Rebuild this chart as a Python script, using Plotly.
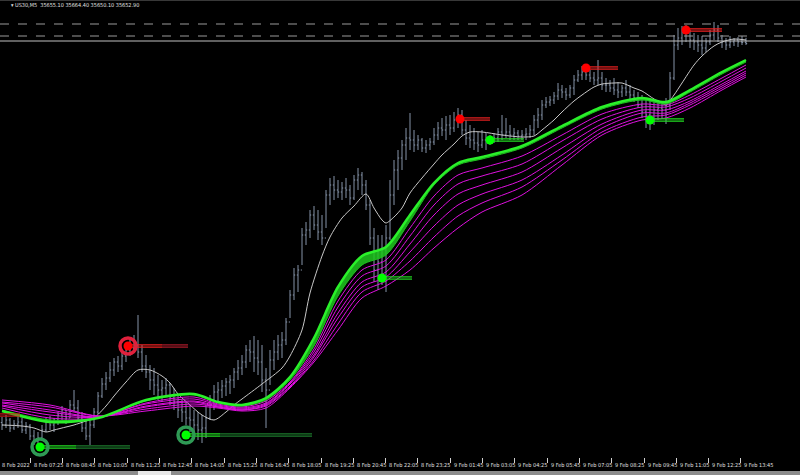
import plotly.graph_objects as go

# ── US30 M5 chart, bars drawn as 10-minute slots ─────────────────
BAR_HIGH = [
    34906, 34910, 34904, 34900, 34908, 34904, 34896, 34892, 34880, 34876,
    34890, 34904, 34908, 34904, 34916, 34928, 34920, 34940, 34960, 34940,
    34916, 34900, 34904, 34924, 34956, 34984, 34996, 35016, 35024, 35028,
    35036, 35052, 35060, 35070, 35110, 35050, 35030, 35010, 35004, 34990,
    34980, 34984, 34974, 34964, 34950, 34940, 34936, 34930, 34920, 34916,
    34910, 34930, 34950, 34970, 34976, 34980, 34984, 34990, 35004, 35020,
    35030, 35050, 35060, 35068, 35060, 35050, 35004, 35040, 35060, 35070,
    35076, 35104, 35160, 35204, 35210, 35284, 35296, 35320, 35328, 35320,
    35310, 35360, 35384, 35388, 35380, 35376, 35384, 35370, 35390, 35404,
    35396, 35380, 35340, 35284, 35270, 35270, 35290, 35380, 35420, 35440,
    35460, 35484, 35514, 35480, 35470, 35464, 35460, 35464, 35484, 35496,
    35504, 35508, 35510, 35516, 35524, 35520, 35500, 35490, 35484, 35476,
    35480, 35474, 35470, 35474, 35484, 35510, 35504, 35490, 35484, 35480,
    35480, 35484, 35490, 35510, 35524, 35540, 35546, 35548, 35556, 35574,
    35570, 35564, 35570, 35590, 35600, 35608, 35604, 35600, 35596, 35620,
    35596, 35584, 35580, 35584, 35576, 35570, 35580, 35570, 35560, 35556,
    35550, 35544, 35540, 35536, 35540, 35536, 35544, 35596, 35670, 35684,
    35688, 35690, 35680, 35674, 35670, 35668, 35664, 35680, 35696, 35690,
    35670, 35664, 35668, 35664, 35666, 35668, 35664.4,
]
BAR_LOW = [
    34880, 34884, 34876, 34880, 34884, 34874, 34872, 34860, 34850, 34848,
    34860, 34876, 34880, 34876, 34890, 34900, 34892, 34904, 34916, 34900,
    34876, 34860, 34850, 34884, 34912, 34944, 34960, 34976, 34988, 34996,
    35000, 35016, 35028, 35036, 35024, 34996, 34984, 34960, 34950, 34940,
    34936, 34950, 34930, 34920, 34904, 34896, 34890, 34876, 34868, 34860,
    34854, 34864, 34900, 34920, 34936, 34944, 34948, 34952, 34964, 34980,
    34990, 35004, 35016, 34996, 34990, 34956, 34884, 34970, 35000, 35020,
    35024, 35050, 35104, 35140, 35156, 35210, 35250, 35264, 35280, 35260,
    35250, 35284, 35330, 35340, 35344, 35340, 35344, 35330, 35340, 35360,
    35350, 35320, 35250, 35176, 35160, 35170, 35156, 35260, 35330, 35360,
    35400, 35420, 35440, 35436, 35440, 35436, 35434, 35440, 35450, 35460,
    35468, 35460, 35470, 35476, 35484, 35470, 35450, 35444, 35440, 35436,
    35444, 35440, 35450, 35454, 35456, 35460, 35464, 35460, 35460, 35460,
    35460, 35460, 35464, 35470, 35484, 35500, 35524, 35528, 35532, 35540,
    35544, 35540, 35544, 35550, 35576, 35580, 35580, 35576, 35570, 35570,
    35560, 35556, 35556, 35550, 35544, 35546, 35548, 35540, 35536, 35524,
    35504, 35484, 35480, 35490, 35500, 35504, 35492, 35520, 35580, 35640,
    35650, 35656, 35644, 35640, 35636, 35630, 35636, 35650, 35660, 35656,
    35644, 35640, 35644, 35648, 35646, 35650, 35650.1,
]
BAR_CLOSE = [
    34890, 34900, 34884, 34892, 34896, 34880, 34888, 34868, 34858, 34864,
    34880, 34896, 34890, 34900, 34910, 34920, 34904, 34930, 34924, 34904,
    34884, 34868, 34890, 34916, 34948, 34972, 34984, 35000, 35016, 35008,
    35028, 35040, 35044, 35050, 35036, 35008, 34996, 34980, 34970, 34960,
    34964, 34970, 34944, 34936, 34920, 34916, 34904, 34900, 34890, 34880,
    34884, 34904, 34940, 34956, 34960, 34968, 34976, 34980, 34996, 35004,
    35016, 35040, 35036, 35024, 35016, 34980, 34960, 35020, 35036, 35050,
    35060, 35096, 35150, 35190, 35200, 35270, 35280, 35310, 35290, 35276,
    35264, 35350, 35370, 35360, 35356, 35364, 35360, 35344, 35380, 35390,
    35370, 35330, 35264, 35200, 35216, 35240, 35264, 35350, 35400, 35424,
    35450, 35464, 35460, 35450, 35460, 35444, 35450, 35456, 35470, 35484,
    35480, 35490, 35484, 35500, 35510, 35480, 35464, 35460, 35454, 35450,
    35460, 35464, 35460, 35464, 35476, 35470, 35476, 35470, 35474, 35468,
    35470, 35472, 35480, 35500, 35510, 35530, 35536, 35540, 35548, 35560,
    35556, 35550, 35564, 35580, 35590, 35596, 35590, 35584, 35580, 35584,
    35570, 35570, 35564, 35560, 35556, 35564, 35556, 35550, 35544, 35530,
    35516, 35510, 35504, 35520, 35524, 35520, 35530, 35584, 35650, 35664,
    35676, 35680, 35660, 35656, 35650, 35644, 35656, 35670, 35680, 35664,
    35656, 35650, 35656, 35660, 35656, 35655.1, 35652.9,
]
FIRST_OPEN = 34895

# ── slow white moving average ────────────────────────────────────
MA_SLOTS = [0, 5, 8, 11, 13, 16, 18, 21, 23, 26, 28, 31, 34, 37, 40, 42, 44, 47, 50, 53,
            56, 58, 60, 65, 70, 72, 75, 77, 80, 82, 85, 88, 91, 93, 95, 96, 98, 100, 102, 105,
            108, 110, 113, 115, 117, 120, 125, 130, 133, 135, 138, 140, 143, 145, 148, 150,
            153, 155, 158, 160, 163, 165, 166, 168, 170, 173, 175, 178, 180, 183, 186]
MA_WHITE = [34890, 34888, 34884, 34876, 34880, 34886, 34890, 34898, 34904, 34928,
            34948, 34976, 35000, 35000, 34988, 34974, 34952, 34930, 34910, 34900,
            34916, 34930, 34942, 34972, 35004, 35028, 35080, 35154, 35228, 35266,
            35304, 35328, 35352, 35324, 35300, 35294, 35306, 35324, 35354, 35384,
            35412, 35430, 35452, 35468, 35476, 35476, 35470, 35466, 35468, 35480,
            35500, 35516, 35538, 35550, 35566, 35572, 35574, 35574, 35564, 35558,
            35542, 35534, 35530, 35550, 35574, 35610, 35628, 35648, 35656, 35662,
            35660]

# ── EMA ribbon ───────────────────────────────────────────────────
RIB_SLOTS = [0, 12, 24, 36, 48, 54, 60, 66, 72, 78, 84, 90, 96, 102, 108, 114, 120,
             130, 140, 150, 160, 166, 172, 180, 186]
RIB_G = [34918, 34896, 34904, 34940, 34952, 34936, 34930, 34944, 34986, 35064, 35166,
         35228, 35246, 35310, 35374, 35414, 35426, 35448, 35488, 35526, 35544, 35536,
         35560, 35596, 35620]
RIB_G2 = [34920, 34900, 34904, 34938, 34950, 34934, 34928, 34940, 34980, 35048, 35148,
          35210, 35230, 35298, 35370, 35410, 35422, 35444, 35484, 35522, 35540, 35532,
          35556, 35592, 35616]
RIB_M1 = [34924, 34904, 34904, 34934, 34946, 34932, 34926, 34938, 34976, 35042, 35138,
          35200, 35220, 35284, 35348, 35390, 35404, 35428, 35470, 35512, 35532, 35530,
          35550, 35584, 35610]
RIB_M2 = [34928, 34910, 34906, 34932, 34942, 34930, 34924, 34934, 34974, 35036, 35126,
          35188, 35208, 35268, 35330, 35372, 35388, 35412, 35458, 35502, 35526, 35526,
          35544, 35578, 35604]
RIB_M3 = [34930, 34916, 34906, 34928, 34938, 34928, 34922, 34932, 34972, 35030, 35114,
          35176, 35196, 35252, 35310, 35352, 35370, 35396, 35444, 35492, 35520, 35520,
          35538, 35572, 35598]
RIB_M4 = [34934, 34920, 34906, 34926, 34936, 34926, 34920, 34930, 34968, 35026, 35104,
          35166, 35186, 35236, 35288, 35330, 35352, 35380, 35430, 35484, 35514, 35514,
          35534, 35568, 35594]
RIB_M5 = [34936, 34926, 34908, 34922, 34932, 34926, 34920, 34928, 34966, 35020, 35092,
          35156, 35178, 35218, 35266, 35308, 35334, 35366, 35420, 35476, 35506, 35510,
          35530, 35564, 35590]
RIB_M6 = [34940, 34930, 34908, 34918, 34928, 34924, 34918, 34924, 34964, 35016, 35080,
          35144, 35168, 35200, 35244, 35284, 35316, 35350, 35410, 35470, 35500, 35504,
          35524, 35560, 35586]

# ── signals ──────────────────────────────────────────────────────
BUY_X = [9.5, 46, 95, 122, 162]
BUY_Y = [34846, 34870, 35184, 35460, 35500]
BUY_RING = [True, True, False, False, False]
BUY_TRAIL_END = [18.5, 54.5, 102.5, 130.5, 170.5]
BUY_TRAIL_OLD = [32, 77.5, None, None, None]

SELL_X = [31.5, 114.5, 146, 171]
SELL_Y = [35048, 35502, 35604, 35680]
SELL_RING = [True, False, False, False]
SELL_TRAIL_END = [40, 122, 154, 180]
SELL_TRAIL_OLD = [46.5, None, None, None]
OLD_SELL_TRAIL = ([-0.5, 4.5], 34910)

LEVEL_DASH = [35692, 35668]
LEVEL_BID = 35658

TICK_TEXT = ["8 Feb 2022", "8 Feb 07:25", "8 Feb 08:45", "8 Feb 10:05", "8 Feb 11:25",
             "8 Feb 12:45", "8 Feb 14:05", "8 Feb 15:25", "8 Feb 16:45", "8 Feb 18:05",
             "8 Feb 19:25", "8 Feb 20:45", "8 Feb 22:05", "8 Feb 23:25", "9 Feb 01:45",
             "9 Feb 03:05", "9 Feb 04:25", "9 Feb 05:45", "9 Feb 07:05", "9 Feb 08:25",
             "9 Feb 09:45", "9 Feb 11:05", "9 Feb 12:25", "9 Feb 13:45"]
TITLE = "US30,M5  35655.10 35664.40 35650.10 35652.90"

# ── colours ──────────────────────────────────────────────────────
BG = "#000000"
BAR_CLR = "#8593a8"
MA_CLR = "#c8c8c8"
GREEN = "#2af02a"
MAGENTA = "#e010e0"
BUY_CLR = "#00ff00"
SELL_CLR = "#ff0000"
FONT = "DejaVu Sans Condensed, Liberation Sans Narrow, Liberation Sans, sans-serif"

slots = list(range(len(BAR_CLOSE)))
opens = [FIRST_OPEN] + BAR_CLOSE[:-1]

fig = go.Figure()

fig.add_trace(go.Ohlc(
    x=slots, open=opens, high=BAR_HIGH, low=BAR_LOW, close=BAR_CLOSE,
    increasing_line_color=BAR_CLR, decreasing_line_color=BAR_CLR,
    line=dict(width=1), tickwidth=0.3, hoverinfo="skip",
))

# horizontal price levels
for lv in LEVEL_DASH:
    fig.add_hline(y=lv, line=dict(color="#9a9a9a", width=1, dash="dash"))
fig.add_hline(y=LEVEL_BID, line=dict(color="#c0c0c0", width=1))

fig.add_trace(go.Scatter(
    x=MA_SLOTS, y=MA_WHITE, mode="lines",
    line=dict(color=MA_CLR, width=1, shape="spline", smoothing=0.8), hoverinfo="skip",
))

for arr in [RIB_M6, RIB_M5, RIB_M4, RIB_M3, RIB_M2, RIB_M1]:
    fig.add_trace(go.Scatter(
        x=RIB_SLOTS, y=arr, mode="lines",
        line=dict(color=MAGENTA, width=1, shape="spline", smoothing=0.8), hoverinfo="skip",
    ))
fig.add_trace(go.Scatter(
    x=RIB_SLOTS, y=RIB_G2, mode="lines",
    line=dict(color="#1fbf1f", width=1, shape="spline", smoothing=0.8), hoverinfo="skip",
))
fig.add_trace(go.Scatter(
    x=RIB_SLOTS, y=RIB_G, mode="lines", fill="tonexty", fillcolor="rgba(30,200,30,0.85)",
    line=dict(color=GREEN, width=2.5, shape="spline", smoothing=0.8), hoverinfo="skip",
))


def trail(x0, x1, y, color):
    # double trail line left behind a signal
    for dy in (-2.2, 2.2):
        fig.add_trace(go.Scatter(
            x=[x0, x1], y=[y + dy, y + dy], mode="lines",
            line=dict(color=color, width=1.2), hoverinfo="skip",
        ))


for x, y, end, old in zip(BUY_X, BUY_Y, BUY_TRAIL_END, BUY_TRAIL_OLD):
    trail(x, end, y, "#22dd22")
    if old:
        trail(end, old, y, "#1c7a2c")
for x, y, end, old in zip(SELL_X, SELL_Y, SELL_TRAIL_END, SELL_TRAIL_OLD):
    trail(x, end, y, "#ee2222")
    if old:
        trail(end, old, y, "#b01c2c")
trail(OLD_SELL_TRAIL[0][0], OLD_SELL_TRAIL[0][1], OLD_SELL_TRAIL[1], "#c81818")

# rings around the first signals
ring_bx = [x for x, r in zip(BUY_X, BUY_RING) if r]
ring_by = [y for y, r in zip(BUY_Y, BUY_RING) if r]
ring_sx = [x for x, r in zip(SELL_X, SELL_RING) if r]
ring_sy = [y for y, r in zip(SELL_Y, SELL_RING) if r]
fig.add_trace(go.Scatter(
    x=ring_bx, y=ring_by, mode="markers", hoverinfo="skip",
    marker=dict(symbol="circle-open", size=16, color="#2f9a55",
                line=dict(color="#2f9a55", width=3.5)),
))
fig.add_trace(go.Scatter(
    x=ring_sx, y=ring_sy, mode="markers", hoverinfo="skip",
    marker=dict(symbol="circle-open", size=16, color="#e0203c",
                line=dict(color="#e0203c", width=3.5)),
))
fig.add_trace(go.Scatter(
    x=BUY_X, y=BUY_Y, mode="markers", hoverinfo="skip",
    marker=dict(size=9, color=BUY_CLR, line=dict(width=0)),
))
fig.add_trace(go.Scatter(
    x=SELL_X, y=SELL_Y, mode="markers", hoverinfo="skip",
    marker=dict(size=9, color=SELL_CLR, line=dict(width=0)),
))

# time axis labels, MT4 style (text starts just right of the tick)
PLOT_H = 457
tick_x = [8.075 * k - 1 for k in range(len(TICK_TEXT))]
for k, txt in enumerate(TICK_TEXT):
    fig.add_annotation(
        x=max(32.3 * k - 0.5, 0) / 800, y=-8 / PLOT_H, xref="paper", yref="paper",
        text=txt, showarrow=False, xanchor="left", yanchor="middle",
        font=dict(color="#e0e0e0", size=5.5, family=FONT),
    )

fig.add_annotation(
    x=9 / 800, y=1 - 5 / PLOT_H, xref="paper", yref="paper", text="▾ " + TITLE,
    showarrow=False, xanchor="left", yanchor="middle",
    font=dict(color="#e0e0e0", size=5.5, family=FONT),
)

# bottom status strip and top frame line
fig.add_shape(type="rect", xref="paper", yref="paper", x0=0, x1=1,
              y0=-18 / PLOT_H, y1=-14 / PLOT_H, fillcolor="#8c8c8c", line_width=0)
fig.add_shape(type="rect", xref="paper", yref="paper", x0=138 / 800, x1=171 / 800,
              y0=-18 / PLOT_H, y1=-14 / PLOT_H, fillcolor="#e8e8e8", line_width=0)
fig.add_shape(type="line", xref="paper", yref="paper", x0=0, x1=1, y0=1, y1=1,
              line=dict(color="#707070", width=1))

fig.update_layout(
    width=800, height=475,
    paper_bgcolor=BG, plot_bgcolor=BG,
    margin=dict(l=0, r=0, t=0, b=18),
    showlegend=False,
    xaxis=dict(range=[-0.5, 199.5], showgrid=False, zeroline=False,
               rangeslider=dict(visible=False), showticklabels=False,
               tickmode="array", tickvals=tick_x, ticks="outside", ticklen=5,
               tickcolor="#d0d0d0", tickwidth=1, fixedrange=True),
    yaxis=dict(range=[34826, 35740], showgrid=False, zeroline=False,
               showticklabels=False, fixedrange=True),
)

fig.write_html("out.html", config={"displayModeBar": False},
               post_script="document.body.style.margin='0';"
               "document.body.style.background='#000';")
